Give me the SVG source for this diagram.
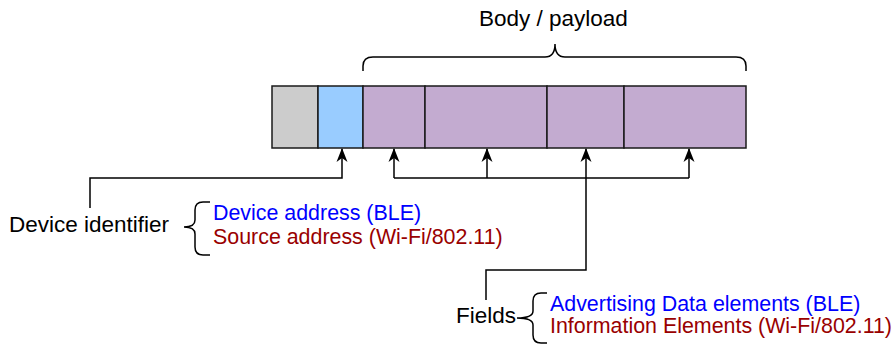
<svg xmlns="http://www.w3.org/2000/svg" width="894" height="345" viewBox="0 0 894 345">
<defs>
<style>
.cell{stroke:#1a1a1a;stroke-width:1.5}
.ln{fill:none;stroke:#000;stroke-width:1.5}
.lbl{font-family:"Liberation Sans",Arial,sans-serif;font-size:22.5px;fill:#000}
.ls{font-family:"Liberation Sans",Arial,sans-serif;font-size:21.4px}
.ble{fill:#0000FF}
.wifi{fill:#990000}
</style>
<marker id="arr" viewBox="0 0 14 12" refX="13" refY="6" markerWidth="14" markerHeight="12" markerUnits="userSpaceOnUse" orient="auto">
<path d="M0,0.5 L14,6 L0,11.5 L4,6 Z" fill="#000"/>
</marker>
</defs>
<rect width="894" height="345" fill="#fff"/>
<g id="frame">
<g id="cell-header"><rect class="cell" x="272" y="86" width="46" height="62" fill="#CCCCCC"/></g>
<g id="cell-address"><rect class="cell" x="318" y="86" width="45" height="62" fill="#99CCFF"/></g>
<g id="cell-f1"><rect class="cell" x="363" y="86" width="62" height="62" fill="#C3ABD0"/></g>
<g id="cell-f2"><rect class="cell" x="425" y="86" width="122" height="62" fill="#C3ABD0"/></g>
<g id="cell-f3"><rect class="cell" x="547" y="86" width="77" height="62" fill="#C3ABD0"/></g>
<g id="cell-f4"><rect class="cell" x="624" y="86" width="122" height="62" fill="#C3ABD0"/></g>
</g>
<g id="body-label">
<path class="ln" d="M363,71 V66 Q363,57 373,57 H545 Q555,57 555,44 Q555,57 565,57 H736 Q746,57 746,66 V71"/>
<text class="lbl" x="479" y="26">Body / payload</text>
</g>
<g id="device-identifier">
<text class="lbl" x="9" y="232">Device identifier</text>
<path class="ln" d="M210,202 H203 Q195,202 195,210 V220 Q195,227 184,227 Q195,227 195,234 V247 Q195,255 203,255 H210"/>
<text class="ls ble" x="213" y="220">Device address (BLE)</text>
<text class="ls wifi" x="213" y="244">Source address (Wi-Fi/802.11)</text>
</g>
<g id="fields">
<text class="lbl" x="456" y="323">Fields</text>
<path class="ln" d="M547,293 H541 Q533,293 533,301 V311 Q533,318 517,318 Q533,318 533,325 V335 Q533,343 541,343 H547"/>
<text class="ls ble" x="550" y="311">Advertising Data elements (BLE)</text>
<text class="ls wifi" x="550" y="333">Information Elements (Wi-Fi/802.11)</text>
</g>
<g id="connectors">
<path class="ln" d="M90,208 V178 H342 V149" marker-end="url(#arr)"/>
<path class="ln" d="M394,178 V149" marker-end="url(#arr)"/>
<path class="ln" d="M487,178 V149" marker-end="url(#arr)"/>
<path class="ln" d="M689,178 V149" marker-end="url(#arr)"/>
<path class="ln" d="M394,178 H689"/>
<path class="ln" d="M486,300 V270 H586 V149" marker-end="url(#arr)"/>
</g>
</svg>
